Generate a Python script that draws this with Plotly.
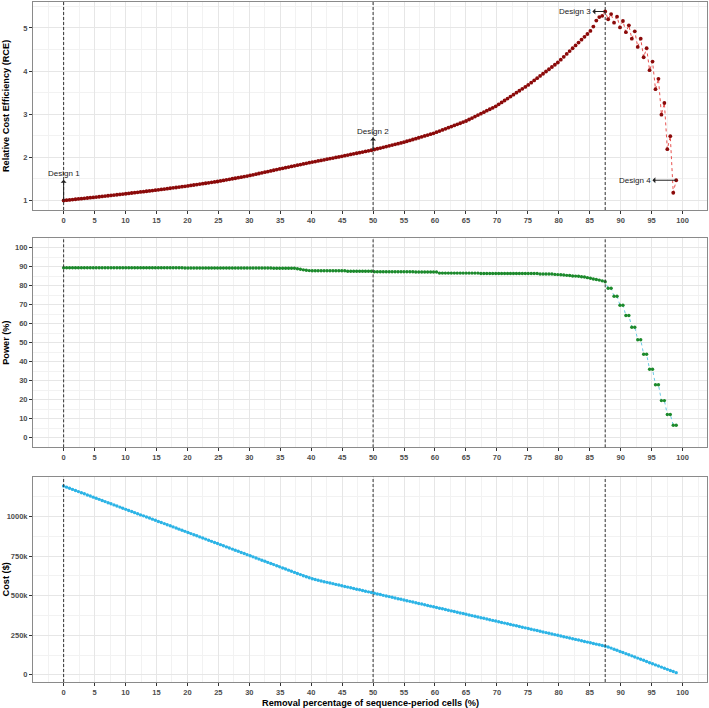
import plotly.graph_objects as go
from plotly.subplots import make_subplots

# ---------------- data ----------------
STEP = 87.5 / 183  # removal step per sequence-period cell (%)
removal_pct = [round(k * STEP, 3) for k in range(208)]

rce = [
    1.000, 1.007, 1.014, 1.022, 1.029, 1.036, 1.043, 1.050, 1.058, 1.065,
    1.072, 1.080, 1.087, 1.095, 1.103, 1.110, 1.118, 1.126, 1.134, 1.141,
    1.149, 1.157, 1.165, 1.174, 1.182, 1.190, 1.198, 1.206, 1.215, 1.223,
    1.231, 1.239, 1.248, 1.257, 1.266, 1.275, 1.284, 1.293, 1.302, 1.311,
    1.320, 1.329, 1.339, 1.349, 1.360, 1.370, 1.380, 1.390, 1.400, 1.411,
    1.421, 1.431, 1.441, 1.454, 1.466, 1.479, 1.491, 1.504, 1.516, 1.529,
    1.541, 1.554, 1.566, 1.581, 1.596, 1.611, 1.626, 1.641, 1.656, 1.671,
    1.686, 1.701, 1.716, 1.731, 1.746, 1.760, 1.775, 1.789, 1.804, 1.818,
    1.833, 1.847, 1.862, 1.876, 1.890, 1.903, 1.917, 1.930, 1.944, 1.957,
    1.971, 1.984, 1.998, 2.011, 2.025, 2.039, 2.053, 2.067, 2.081, 2.095,
    2.109, 2.123, 2.137, 2.151, 2.165, 2.182, 2.199, 2.216, 2.233, 2.250,
    2.267, 2.284, 2.301, 2.318, 2.335, 2.352, 2.373, 2.393, 2.414, 2.434,
    2.455, 2.475, 2.496, 2.516, 2.537, 2.557, 2.583, 2.609, 2.635, 2.661,
    2.687, 2.713, 2.739, 2.765, 2.791, 2.817, 2.843, 2.877, 2.911, 2.945,
    2.979, 3.013, 3.047, 3.081, 3.115, 3.149, 3.183, 3.228, 3.273, 3.318,
    3.363, 3.408, 3.453, 3.498, 3.543, 3.588, 3.633, 3.678, 3.730, 3.782,
    3.834, 3.886, 3.938, 3.990, 4.042, 4.094, 4.146, 4.198, 4.264, 4.330,
    4.396, 4.462, 4.528, 4.594, 4.660, 4.726, 4.792, 4.858, 4.930, 5.030,
    5.170, 5.250, 5.280, 5.380,
    5.20, 5.32, 5.12, 5.26, 5.01, 5.16, 4.90, 5.06, 4.75, 4.92, 4.56, 4.75,
    4.32, 4.53, 4.02, 4.22, 3.58, 3.82, 2.99, 3.26, 2.19, 2.49, 1.18, 1.47,
]

power = [
    89.5, 89.5, 89.5, 89.5, 89.5, 89.5, 89.5, 89.5, 89.5, 89.5,
    89.5, 89.5, 89.5, 89.5, 89.5, 89.5, 89.5, 89.5, 89.5, 89.5,
    89.5, 89.5, 89.5, 89.5, 89.5, 89.5, 89.5, 89.5, 89.5, 89.5,
    89.5, 89.5, 89.5, 89.5, 89.5, 89.5, 89.5, 89.5, 89.5, 89.5,
    89.5, 89.4, 89.4, 89.4, 89.4, 89.4, 89.4, 89.4, 89.4, 89.4,
    89.4, 89.4, 89.4, 89.4, 89.4, 89.4, 89.4, 89.4, 89.4, 89.4,
    89.4, 89.4, 89.4, 89.4, 89.4, 89.4, 89.4, 89.4, 89.4, 89.4,
    89.4, 89.2, 89.2, 89.2, 89.2, 89.2, 89.2, 89.2, 89.2, 89.0,
    88.7, 88.4, 88.2, 88.0, 87.9, 87.9, 87.9, 87.9, 87.9, 87.9,
    87.9, 87.9, 87.9, 87.9, 87.9, 87.9, 87.7, 87.7, 87.7, 87.7,
    87.7, 87.7, 87.7, 87.7, 87.7, 87.4, 87.4, 87.4, 87.4, 87.4,
    87.4, 87.4, 87.4, 87.4, 87.4, 87.4, 87.4, 87.4, 87.4, 87.3,
    87.3, 87.3, 87.3, 87.3, 87.3, 87.3, 87.3, 86.7, 86.7, 86.7,
    86.7, 86.7, 86.7, 86.7, 86.7, 86.7, 86.7, 86.7, 86.7, 86.7,
    86.7, 86.5, 86.5, 86.5, 86.5, 86.5, 86.5, 86.5, 86.5, 86.5,
    86.5, 86.5, 86.5, 86.5, 86.5, 86.5, 86.5, 86.5, 86.5, 86.5,
    86.5, 86.2, 86.2, 86.2, 86.2, 86.2, 86.0, 85.9, 85.8, 85.7,
    85.5, 85.4, 85.2, 85.1, 85.0, 84.8, 84.6, 84.3, 84.0, 83.6,
    83.3, 83.0, 82.6, 82.1,
    78.7, 78.7, 74.5, 74.5, 69.8, 69.8, 64.4, 64.4, 58.2, 58.2, 51.6, 51.6,
    44.0, 44.0, 36.1, 36.1, 27.9, 27.9, 19.6, 19.6, 12.3, 12.3, 6.6, 6.6,
]

cost_k = [
    1192, 1185, 1178, 1171, 1164, 1157, 1150, 1143, 1136, 1129,
    1122, 1115, 1108, 1101, 1094, 1087, 1080, 1073, 1066, 1059,
    1052, 1045, 1038, 1031, 1024, 1017, 1010, 1004, 997, 990,
    983, 976, 968, 962, 955, 948, 941, 934, 927, 920,
    913, 906, 899, 892, 885, 878, 871, 864, 857, 850,
    843, 836, 829, 822, 815, 808, 801, 794, 787, 780,
    773, 766, 759, 752, 745, 738, 731, 724, 717, 710,
    703, 696, 689, 682, 675, 668, 661, 654, 647, 640,
    633, 626, 619, 613, 607, 602, 597, 593, 588, 584,
    580, 576, 571, 567, 563, 558, 554, 550, 545, 541,
    537, 533, 528, 524, 520, 515, 511, 507, 502, 498,
    494, 490, 485, 481, 477, 473, 468, 464, 460, 455,
    451, 447, 443, 438, 434, 430, 425, 421, 417, 413,
    408, 404, 400, 395, 391, 387, 383, 378, 374, 370,
    365, 361, 357, 353, 348, 344, 340, 335, 331, 327,
    323, 318, 314, 310, 305, 301, 297, 293, 288, 284,
    280, 275, 271, 267, 263, 258, 254, 250, 245, 241,
    237, 233, 228, 224, 220, 215, 211, 207, 203, 198,
    194, 190, 185, 181,
    176, 169, 162, 155, 148, 141, 134, 127, 120, 113, 106, 99,
    92, 84, 77, 70, 63, 56, 49, 42, 35, 28, 21, 14,
]

design_x = [0, 50, 87.5]
x_ticks = list(range(0, 101, 5))
cost_tickvals = [0, 250, 500, 750, 1000]
cost_ticktext = ["0", "250k", "500k", "750k", "1000k"]

designs = [
    # label, point x, point y, text x, text y
    ("Design 1", 0, 1.0, 0, 1.62),
    ("Design 2", 50, 2.17, 50, 2.60),
    ("Design 3", 87.5, 5.38, 82.6, 5.38),
    ("Design 4", removal_pct[-1], rce[-1], 92.3, rce[-1]),
]

# ---------------- figure ----------------
FONT = "Liberation Sans"
fig = make_subplots(rows=3, cols=1)

fig.add_trace(go.Scatter(
    x=removal_pct, y=rce, mode="lines+markers",
    line=dict(color="#e8514f", width=1, dash="dot"),
    marker=dict(color="#8b0a0a", size=3.8),
    showlegend=False), row=1, col=1)
fig.add_trace(go.Scatter(
    x=removal_pct, y=power, mode="lines+markers",
    line=dict(color="#6cc9e6", width=1, dash="dot"),
    marker=dict(color="#1d8a2c", size=3.4),
    showlegend=False), row=2, col=1)
fig.add_trace(go.Scatter(
    x=removal_pct, y=cost_k, mode="lines+markers",
    line=dict(color="#1f8fd0", width=1, dash="dot"),
    marker=dict(color="#2cb4e6", size=3.4),
    showlegend=False), row=3, col=1)

domains = [[0.6941, 1.0], [0.3451, 0.6525], [0.0, 0.3019]]
yranges = [[0.78, 5.60], [-5, 105], [-45, 1251]]

tickfont = dict(family=FONT, size=7.5, color="#4d4d4d", weight="bold")
minor_grid = dict(showgrid=True, gridcolor="#f2f2f2", gridwidth=0.6)
for i in range(3):
    xa = "xaxis" if i == 0 else f"xaxis{i+1}"
    ya = "yaxis" if i == 0 else f"yaxis{i+1}"
    fig.layout[xa].update(
        range=[-4.95, 103.95], tickmode="array", tickvals=x_ticks,
        showgrid=True, gridcolor="#e6e6e6", gridwidth=1,
        minor=dict(tick0=0, dtick=2.5, **minor_grid),
        ticks="outside", ticklen=3, tickcolor="#333333",
        showline=True, linecolor="#8a8a8a", linewidth=1, mirror=True,
        zeroline=False, tickfont=tickfont)
    fig.layout[ya].update(
        domain=domains[i], range=yranges[i],
        showgrid=True, gridcolor="#e6e6e6", gridwidth=1,
        ticks="outside", ticklen=3, tickcolor="#333333",
        showline=True, linecolor="#8a8a8a", linewidth=1, mirror=True,
        zeroline=False, tickfont=tickfont)

fig.layout.yaxis.update(tickmode="linear", tick0=1, dtick=1,
                        minor=dict(tick0=0.5, dtick=1, **minor_grid))
fig.layout.yaxis2.update(tickmode="linear", tick0=0, dtick=10,
                         minor=dict(tick0=5, dtick=10, **minor_grid))
fig.layout.yaxis3.update(tickmode="array", tickvals=cost_tickvals, ticktext=cost_ticktext,
                         minor=dict(tickmode="array", tickvals=[125, 375, 625, 875, 1125],
                                    **minor_grid))

# dashed design lines in every panel
for i in range(3):
    xr = "x" if i == 0 else f"x{i+1}"
    yr = "y domain" if i == 0 else f"y{i+1} domain"
    for dx in design_x:
        fig.add_shape(type="line", xref=xr, yref=yr, x0=dx, x1=dx, y0=0, y1=1,
                      line=dict(color="#333333", width=1, dash="3px,2px"), layer="above")

annotations = []
for label, px, py, tx, ty in designs:
    annotations.append(dict(
        x=px, y=py, xref="x", yref="y", ax=tx, ay=ty, axref="x", ayref="y",
        text=label, showarrow=True, arrowside="start", arrowhead=2,
        arrowsize=0.6, arrowwidth=1, arrowcolor="#222222", standoff=0, startstandoff=0,
        font=dict(family=FONT, size=8, color="#1a1a1a")))

title_font = dict(family=FONT, size=9.2, color="black", weight="bold")
ytitles = ["Relative Cost Efficiency (RCE)", "Power (%)", "Cost ($)"]
for i, t in enumerate(ytitles):
    annotations.append(dict(
        text=t, xref="paper", yref="paper", x=-0.040, y=sum(domains[i]) / 2,
        textangle=-90, showarrow=False, font=title_font, xanchor="center", yanchor="middle"))
annotations.append(dict(
    text="Removal percentage of sequence-period cells (%)", xref="paper", yref="paper",
    x=0.5, y=-0.0309, showarrow=False, font=title_font, xanchor="center", yanchor="middle"))

fig.update_layout(
    template="none",
    width=709, height=708,
    margin=dict(l=33, r=2, t=2, b=26, autoexpand=False),
    paper_bgcolor="white", plot_bgcolor="white",
    annotations=annotations,
    font=dict(family=FONT, color="#1a1a1a"),
)

fig.write_html("out.html")
